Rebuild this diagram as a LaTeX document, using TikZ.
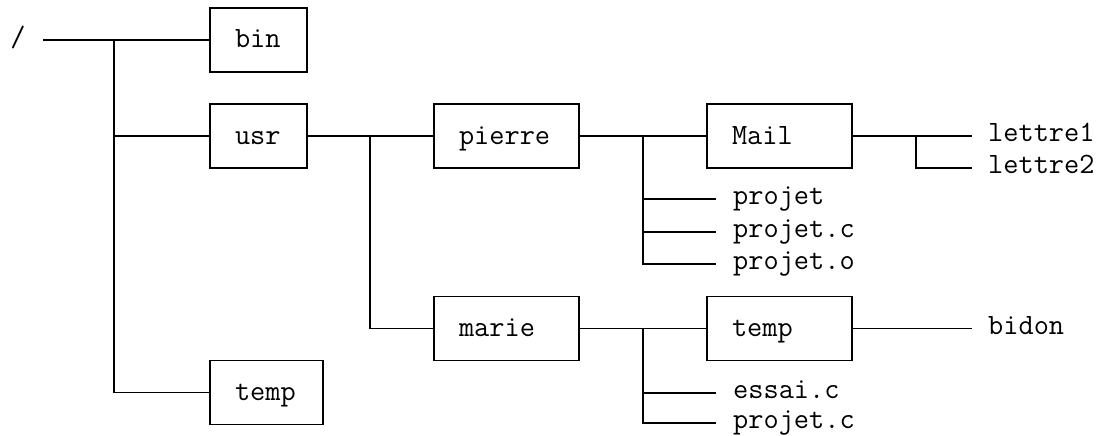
\documentclass[tikz,border=0pt]{standalone}
\usepackage{fontspec}
\begin{document}
\begin{tikzpicture}[x=1pt,y=-1pt,
  every node/.style={font=\ttfamily\fontsize{29.5}{30}\selectfont},
  dirbox/.style={draw, line width=1.7pt, rectangle, inner xsep=25pt, inner ysep=0pt,
    align=left, text height=16pt, text depth=0pt, minimum height=64pt},
  leaf/.style={anchor=west, inner xsep=17pt, inner ysep=0pt, text height=11pt, text depth=0pt},
  conn/.style={line width=1.7pt}]
\useasboundingbox (0,0) rectangle (1105,436);
% root
\node[inner xsep=0pt, inner ysep=0pt, text height=14pt, text depth=0pt] (root) at (18,40) {/};
\coordinate (rs) at (43,40);
% level 1
\node[dirbox, text width=47pt] (bin) at (258.5,40) {bin};
\node[dirbox, text width=47pt] (usr) at (258.5,136) {usr};
\node[dirbox, text width=63pt] (temp0) at (266.5,392.5) {temp};
% level 2
\node[dirbox, text width=95pt] (pierre) at (506.5,136) {pierre};
\node[dirbox, text width=95pt] (marie) at (506.5,328.5) {marie};
% level 3
\node[dirbox, text width=95pt] (mail) at (779.5,136) {Mail};
\node[dirbox, text width=95pt] (temp1) at (779.5,328.5) {temp};
\node[leaf] (projet) at (716,199) {projet};
\node[leaf] (projetc) at (716,232) {projet.c};
\node[leaf] (projeto) at (716,264) {projet.o};
\node[leaf] (essai) at (716,393) {essai.c};
\node[leaf] (projetc2) at (716,423) {projet.c};
% level 4
\node[leaf, inner xsep=16pt] (lettre1) at (972,136) {lettre1};
\node[leaf, inner xsep=16pt] (lettre2) at (972,168) {lettre2};
\node[leaf, inner xsep=16pt] (bidon) at (972,328.5) {bidon};
% junctions
\coordinate (j0) at (114,40);
\coordinate (j1) at (370,136);
\coordinate (j2) at (643,136);
\coordinate (j3) at (916,136);
\coordinate (j4) at (643,328.5);
% connectors
\draw[conn] (rs) -- (bin.west);
\draw[conn] (j0) |- (temp0.west);
\draw[conn] (j0 |- usr.west) -- (usr.west);
\draw[conn] (usr.east) -- (pierre.west);
\draw[conn] (j1) |- (marie.west);
\draw[conn] (pierre.east) -- (mail.west);
\draw[conn] (j2) |- (projeto.west);
\draw[conn] (j2 |- projet.west) -- (projet.west);
\draw[conn] (j2 |- projetc.west) -- (projetc.west);
\draw[conn] (mail.east) -- (lettre1.west);
\draw[conn] (j3) |- (lettre2.west);
\draw[conn] (marie.east) -- (temp1.west);
\draw[conn] (j4) |- (projetc2.west);
\draw[conn] (j4 |- essai.west) -- (essai.west);
\draw[conn] (temp1.east) -- (bidon.west);
\end{tikzpicture}
\end{document}
